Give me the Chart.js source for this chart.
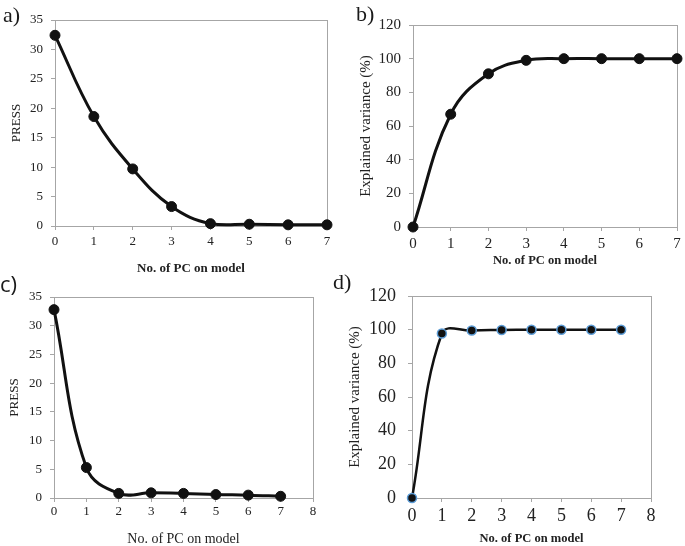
<!DOCTYPE html>
<html>
<head>
<meta charset="utf-8">
<script src="https://cdn.jsdelivr.net/npm/chart.js@4.4.1/dist/chart.umd.min.js"></script>
<style>
  html, body { margin: 0; padding: 0; background: #fff; }
  #page { position: relative; width: 685px; height: 546px; overflow: hidden; }
  canvas { position: absolute; }
  .tag { position: absolute; font-size: 22px; line-height: 22px; color: #1a1a1a; }
</style>
</head>
<body>
<div id="page">
  <canvas id="chartA" width="340" height="276" style="left:0;top:0"></canvas>
  <canvas id="chartB" width="345" height="270" style="left:340px;top:0"></canvas>
  <canvas id="chartC" width="340" height="276" style="left:0;top:270px"></canvas>
  <canvas id="chartD" width="345" height="276" style="left:340px;top:270px"></canvas>
  <div class="tag" style="left:3px;top:4px;font-family:'Liberation Serif'">a)</div>
  <div class="tag" style="left:356px;top:3px;font-family:'Liberation Serif'">b)</div>
  <div class="tag" style="left:0;top:272px;font-family:'Open Sans'">c)</div>
  <div class="tag" style="left:333px;top:271px;font-family:'Liberation Serif'">d)</div>
</div>
<script>
// data
const pcCount = [0, 1, 2, 3, 4, 5, 6, 7];
const pressA = [32.4, 18.6, 9.7, 3.3, 0.4, 0.3, 0.2, 0.2];
const varianceB = [0, 67, 91, 99, 100, 100, 100, 100];
const pressC = [32.8, 5.3, 0.8, 0.9, 0.8, 0.6, 0.5, 0.3];
const varianceD = [0, 97.7, 99.5, 99.8, 100, 100, 100, 100];

const AXIS_GREY = "#a6a6a6";
const TEXT = "#222";
const SERIF = "'Liberation Serif', 'Times New Roman', serif";

// full grey box round the plot area
const boxPlugin = {
  id: "plotBox",
  beforeDatasetsDraw(chart) {
    const { ctx, chartArea: a } = chart;
    ctx.save();
    ctx.strokeStyle = AXIS_GREY;
    ctx.lineWidth = 1;
    ctx.strokeRect(Math.round(a.left) + 0.5, Math.round(a.top) + 0.5,
      Math.round(a.right - a.left), Math.round(a.bottom - a.top));
    ctx.restore();
  },
};

function makePanel(canvasId, values, cfg) {
  const ctx = document.getElementById(canvasId).getContext("2d");
  new Chart(ctx, {
    type: "line",
    data: {
      datasets: [{
        data: pcCount.map((x, i) => ({ x: x, y: values[i] })),
        borderColor: "#111",
        borderWidth: cfg.lineWidth,
        tension: 0.4,
        pointRadius: cfg.pointRadius,
        pointBackgroundColor: "#111",
        pointBorderColor: cfg.pointBorder,
        pointBorderWidth: cfg.pointBorderWidth,
        clip: false,
      }],
    },
    plugins: [boxPlugin],
    options: {
      responsive: false,
      animation: false,
      events: [],
      layout: { padding: cfg.padding },
      plugins: { legend: { display: false }, tooltip: { enabled: false } },
      scales: {
        x: {
          type: "linear",
          min: 0,
          max: cfg.xMax,
          afterFit: (s) => { s.height = cfg.xHeight; },
          border: { color: AXIS_GREY },
          grid: { drawOnChartArea: false, color: AXIS_GREY, tickLength: 4 },
          ticks: {
            stepSize: 1,
            padding: cfg.xTickPad,
            color: TEXT,
            font: { family: SERIF, size: cfg.xTickSize },
          },
          title: {
            display: true,
            text: "No. of PC on model",
            color: TEXT,
            padding: { top: 0, bottom: cfg.xTitlePad },
            font: { family: SERIF, size: cfg.xTitleSize, weight: cfg.xTitleWeight, lineHeight: 1 },
          },
        },
        y: {
          min: 0,
          max: cfg.yMax,
          afterFit: (s) => { s.width = cfg.yWidth; },
          border: { color: AXIS_GREY },
          grid: { drawOnChartArea: false, color: AXIS_GREY, tickLength: 4 },
          ticks: {
            stepSize: cfg.yStep,
            padding: cfg.yTickPad,
            color: TEXT,
            font: { family: SERIF, size: cfg.yTickSize },
          },
          title: {
            display: true,
            text: cfg.yTitle,
            color: TEXT,
            padding: { top: cfg.yTitlePad, bottom: 0 },
            font: { family: SERIF, size: cfg.yTitleSize, weight: "normal", lineHeight: 1 },
          },
        },
      },
    },
  });
}

// a) PRESS, 7 PCs
makePanel("chartA", pressA, {
  padding: { top: 20, right: 13, left: 0, bottom: 0 },
  xMax: 7, yMax: 35, yStep: 5,
  xHeight: 50, yWidth: 55,
  xTickSize: 13, yTickSize: 13, xTickPad: 4, yTickPad: 8,
  xTitleSize: 13, xTitleWeight: "bold", xTitlePad: 1,
  yTitle: "PRESS", yTitleSize: 13, yTitlePad: 10,
  lineWidth: 3, pointRadius: 5, pointBorder: "#111", pointBorderWidth: 1,
});

// b) explained variance, 7 PCs
makePanel("chartB", varianceB, {
  padding: { top: 25, right: 8, left: 0, bottom: 0 },
  xMax: 7, yMax: 120, yStep: 20,
  xHeight: 43, yWidth: 73,
  xTickSize: 15, yTickSize: 15, xTickPad: 4, yTickPad: 8,
  xTitleSize: 12.5, xTitleWeight: "bold", xTitlePad: 3,
  yTitle: "Explained variance (%)", yTitleSize: 15, yTitlePad: 19,
  lineWidth: 3, pointRadius: 5, pointBorder: "#111", pointBorderWidth: 1,
});

// c) PRESS, axis to 8
makePanel("chartC", pressC, {
  padding: { top: 27, right: 27, left: 0, bottom: 0 },
  xMax: 8, yMax: 35, yStep: 5,
  xHeight: 48, yWidth: 54,
  xTickSize: 13, yTickSize: 13, xTickPad: 2, yTickPad: 8,
  xTitleSize: 14, xTitleWeight: "normal", xTitlePad: 0,
  yTitle: "PRESS", yTitleSize: 13, yTitlePad: 8,
  lineWidth: 3, pointRadius: 5, pointBorder: "#111", pointBorderWidth: 1,
});

// d) explained variance, axis to 8
makePanel("chartD", varianceD, {
  padding: { top: 26, right: 34, left: 0, bottom: 0 },
  xMax: 8, yMax: 120, yStep: 20,
  xHeight: 48, yWidth: 72,
  xTickSize: 18, yTickSize: 18, xTickPad: 3, yTickPad: 12,
  xTitleSize: 12.5, xTitleWeight: "bold", xTitlePad: 1,
  yTitle: "Explained variance (%)", yTitleSize: 15, yTitlePad: 8,
  lineWidth: 2.5, pointRadius: 4.5, pointBorder: "#5b9bd5", pointBorderWidth: 1.5,
});
</script>
</body>
</html>
